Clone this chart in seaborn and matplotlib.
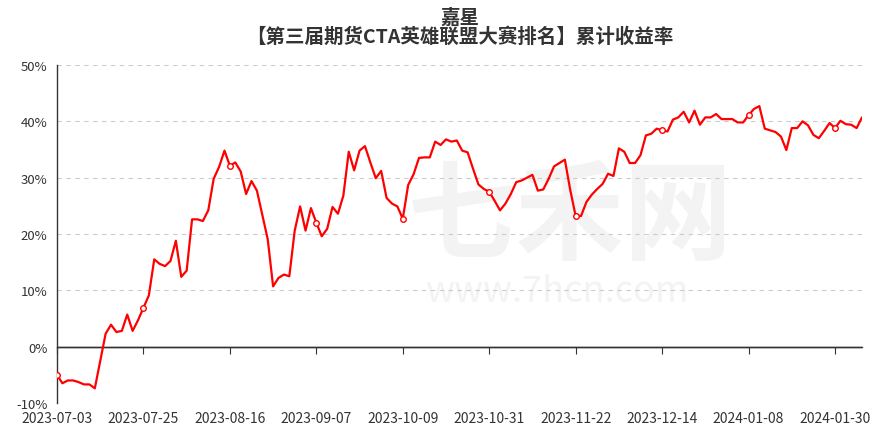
import matplotlib
matplotlib.use("Agg")
import matplotlib.pyplot as plt
import seaborn as sns
import pandas as pd

# cumulative return (%) per trading day, 2023-07-03 .. 2024-02-06
returns = [
    -5.0, -6.5, -6.0, -6.0, -6.3, -6.7, -6.7, -7.4, -2.5, 2.3,
    3.9, 2.6, 2.8, 5.7, 2.8, 4.7, 6.9, 9.1, 15.5, 14.7,
    14.3, 15.2, 18.8, 12.4, 13.5, 22.6, 22.6, 22.3, 24.2, 29.8,
    31.9, 34.8, 32.1, 32.7, 31.1, 27.1, 29.4, 27.7, 23.4, 19.1,
    10.7, 12.2, 12.8, 12.5, 20.6, 24.9, 20.6, 24.6, 22.0, 19.6,
    20.9, 24.8, 23.6, 26.8, 34.6, 31.3, 34.8, 35.6, 32.7, 29.9,
    31.2, 26.4, 25.4, 24.9, 22.7, 28.7, 30.6, 33.5, 33.6, 33.6,
    36.4, 35.8, 36.8, 36.4, 36.6, 34.8, 34.5, 31.6, 28.8, 28.0,
    27.5, 25.9, 24.2, 25.4, 27.1, 29.2, 29.5, 30.0, 30.5, 27.7,
    27.9, 29.8, 32.0, 32.6, 33.2, 27.8, 23.2, 23.2, 25.7, 27.0,
    28.0, 28.9, 30.7, 30.3, 35.2, 34.6, 32.6, 32.6, 34.0, 37.5,
    37.8, 38.7, 38.4, 38.2, 40.3, 40.7, 41.7, 39.8, 41.9, 39.4,
    40.7, 40.7, 41.3, 40.4, 40.4, 40.4, 39.8, 39.8, 41.1, 42.2,
    42.7, 38.7, 38.4, 38.1, 37.3, 34.9, 38.8, 38.8, 40.0, 39.3,
    37.6, 37.0, 38.3, 39.7, 38.8, 40.1, 39.5, 39.4, 38.8, 40.7,
]
tick_labels = ["2023-07-03", "2023-07-25", "2023-08-16", "2023-09-07",
               "2023-10-09", "2023-10-31", "2023-11-22", "2023-12-14",
               "2024-01-08", "2024-01-30"]
tick_step = 16
y_ticks = [-10, 0, 10, 20, 30, 40, 50]

title1 = "嘉星"
title2 = "【第三届期货CTA英雄联盟大赛排名】累计收益率"

df = pd.DataFrame({"day": range(len(returns)), "ret": returns})

sns.set_style("white")
plt.rcParams['font.family'] = ['Noto Sans CJK SC', 'DejaVu Sans']

fig = plt.figure(figsize=(8.89, 4.31), dpi=100)
ax = fig.add_axes([57/889, 1-404/431, (862-57)/889, (404-66)/431])

# watermark
ax.text(0.637, 0.544, "七禾网", transform=ax.transAxes, fontsize=78,
        color="#f3f3f3", ha="center", va="center", fontweight="bold", zorder=0)
ax.text(0.621, 0.331, "www.7hcn.com", transform=ax.transAxes, fontsize=26,
        color="#f3f3f3", ha="center", va="center", zorder=0)

ax.grid(axis="y", color="#cccccc", linestyle=(0, (4, 4)), lw=0.8, zorder=1)
ax.set_axisbelow(True)
ax.axhline(0, color="#333333", lw=1, zorder=2)

sns.lineplot(data=df, x="day", y="ret", ax=ax, color="#ff0000", lw=1.6,
             marker="o", markevery=tick_step, markersize=4,
             markerfacecolor="white", markeredgecolor="#ff0000",
             markeredgewidth=1, zorder=3)

ax.set_xlim(0, len(returns) - 1)
ax.set_ylim(-10, 50)
ax.set_yticks(y_ticks)
ax.set_yticklabels([f"{v}%" for v in y_ticks])
ax.set_xticks(list(range(0, len(returns), tick_step)))
ax.set_xticklabels(tick_labels)
ax.set_xlabel("")
ax.set_ylabel("")

for s in ["top", "right", "bottom"]:
    ax.spines[s].set_visible(False)
ax.spines["left"].set_color("#333333")
ax.spines["left"].set_linewidth(1)
ax.tick_params(axis="y", length=4, color="#333333", labelsize=9.5,
               labelcolor="#333333", pad=3)
ax.tick_params(axis="x", length=0, labelsize=10, labelcolor="#333333", pad=6)

# ticks on the zero line
zero_ax = ax.secondary_xaxis(10/60)
zero_ax.set_xticks(list(range(0, len(returns), tick_step)))
zero_ax.set_xticklabels([])
zero_ax.tick_params(length=5, color="#333333", direction="out")
zero_ax.spines["bottom"].set_color("#333333")
zero_ax.spines["bottom"].set_linewidth(1)

cx = (57 + 862) / 2 / 889
fig.text(cx, 1-18/431, title1, ha="center", va="center", fontsize=14,
         fontweight="bold", color="#333333")
fig.text(cx, 1-37/431, title2, ha="center", va="center", fontsize=14,
         fontweight="bold", color="#333333")

fig.savefig("out.png", dpi=100)
